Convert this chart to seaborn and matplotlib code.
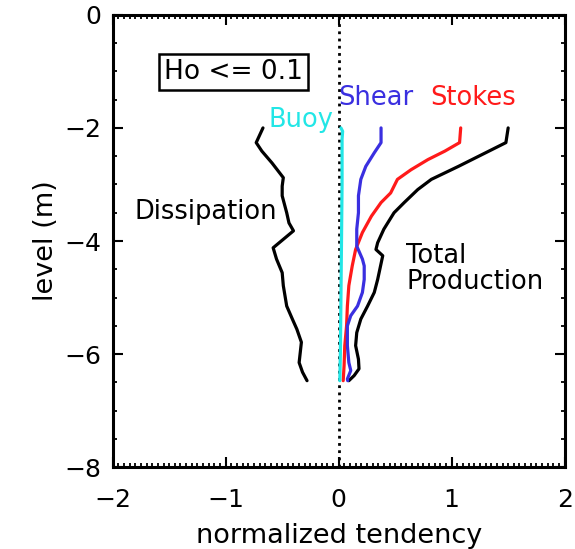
import matplotlib
matplotlib.use("Agg")
import matplotlib.pyplot as plt
import pandas as pd
import seaborn as sns
from matplotlib.ticker import MultipleLocator

# ── data ──────────────────────────────────────────────────────────────────────

total_x = [1.50, 1.48, 1.24, 1.06, 0.82, 0.70, 0.58, 0.49, 0.40, 0.345, 0.33,
           0.39, 0.345, 0.315, 0.256, 0.196, 0.16, 0.15, 0.175, 0.18, 0.137, 0.09]
total_y = [-2.00, -2.26, -2.50, -2.68, -2.91, -3.09, -3.32, -3.50, -3.79, -4.03, -4.15,
           -4.26, -4.68, -4.91, -5.15, -5.38, -5.62, -5.85, -6.09, -6.26, -6.38, -6.47]

stokes_x = [1.08, 1.07, 0.94, 0.79, 0.64, 0.52, 0.46, 0.375, 0.29, 0.21, 0.15,
            0.12, 0.09, 0.077, 0.07, 0.054, 0.048, 0.04]
stokes_y = [-2.00, -2.26, -2.41, -2.56, -2.74, -2.91, -3.15, -3.32, -3.56, -3.85, -4.15,
            -4.44, -4.79, -5.15, -5.50, -5.85, -6.20, -6.47]

shear_x = [0.375, 0.375, 0.315, 0.24, 0.196, 0.175, 0.175, 0.16, 0.16, 0.21, 0.226,
           0.226, 0.21, 0.167, 0.107, 0.077, 0.077, 0.09, 0.107, 0.077, 0.08]
shear_y = [-2.00, -2.26, -2.44, -2.68, -2.91, -3.20, -3.50, -3.79, -4.09, -4.32, -4.44,
           -4.68, -4.91, -5.15, -5.32, -5.50, -5.85, -6.15, -6.29, -6.44, -6.47]

buoy_x = [0.02, 0.035, 0.03, 0.03, 0.025, 0.02, 0.015, 0.01]
buoy_y = [-2.00, -2.06, -2.20, -3.00, -4.00, -5.00, -6.00, -6.47]

diss_x = [-0.67, -0.73, -0.68, -0.59, -0.49, -0.50, -0.50, -0.46, -0.44, -0.40, -0.49,
          -0.58, -0.55, -0.50, -0.49, -0.46, -0.41, -0.37, -0.33, -0.34, -0.35, -0.32, -0.28]
diss_y = [-2.00, -2.26, -2.41, -2.62, -2.88, -3.03, -3.20, -3.50, -3.68, -3.82, -3.97,
          -4.12, -4.32, -4.56, -4.79, -5.15, -5.38, -5.56, -5.79, -5.97, -6.15, -6.32, -6.47]

series = {
    "Total": (total_x, total_y),
    "Stokes": (stokes_x, stokes_y),
    "Shear": (shear_x, shear_y),
    "Buoy": (buoy_x, buoy_y),
    "Dissipation": (diss_x, diss_y),
}
colors = {"Total": "black", "Stokes": "#ff1a1a", "Shear": "#3a2fe0",
          "Buoy": "#22e6e6", "Dissipation": "black"}

frames = []
for name, (xs, ys) in series.items():
    frames.append(pd.DataFrame({"tendency": xs, "level": ys, "term": name}))
df = pd.concat(frames, ignore_index=True)

# ── plot ──────────────────────────────────────────────────────────────────────

sns.set_style("ticks")
plt.rcParams["font.family"] = ["DejaVu Sans"]
plt.rcParams["text.color"] = "black"
plt.rcParams["axes.labelcolor"] = "black"
plt.rcParams["xtick.color"] = "black"
plt.rcParams["ytick.color"] = "black"

fig = plt.figure(figsize=(5.75, 5.49), dpi=100)
ax = fig.add_axes([0.196, 0.149, 0.786, 0.824])

ax.axvline(0, color="black", linestyle=(0, (1, 1.6)), linewidth=2.0, zorder=1)

sns.lineplot(data=df, x="tendency", y="level", hue="term", units="term",
             estimator=None, sort=False, palette=colors, linewidth=2.3,
             legend=False, ax=ax, zorder=3)

ax.set_xlim(-2, 2)
ax.set_ylim(-8, 0)
ax.xaxis.set_major_locator(MultipleLocator(1))
ax.xaxis.set_minor_locator(MultipleLocator(0.05))
ax.yaxis.set_major_locator(MultipleLocator(2))
ax.yaxis.set_minor_locator(MultipleLocator(0.5))
ax.tick_params(which="both", direction="in", top=True, right=True, labelsize=18)
ax.tick_params(axis="x", pad=15)
ax.tick_params(axis="y", pad=8)
ax.tick_params(which="major", length=7, width=1.5)
ax.tick_params(which="minor", length=3, width=1.3)
for s in ax.spines.values():
    s.set_linewidth(2.2)
    s.set_color("black")

ax.set_xlabel("normalized tendency", fontsize=19.5, labelpad=8)
ax.set_ylabel("level (m)", fontsize=19.5, labelpad=4)

ax.text(-0.93, -1.01, "Ho <= 0.1", fontsize=19, ha="center", va="center",
        bbox=dict(boxstyle="square,pad=0.18", facecolor="white",
                  edgecolor="black", linewidth=1.8))
ax.text(0.0, -1.47, "Shear", color=colors["Shear"], fontsize=18.5, ha="left", va="center")
ax.text(0.81, -1.47, "Stokes", color=colors["Stokes"], fontsize=18.5, ha="left", va="center")
ax.text(-0.05, -1.86, "Buoy", color=colors["Buoy"], fontsize=18.5, ha="right", va="center")
ax.text(-1.81, -3.49, "Dissipation", fontsize=18.5, ha="left", va="center")
ax.text(0.60, -4.49, "Total\nProduction", fontsize=18.5, ha="left", va="center",
        linespacing=1.0)

fig.savefig("out.png", dpi=100)
